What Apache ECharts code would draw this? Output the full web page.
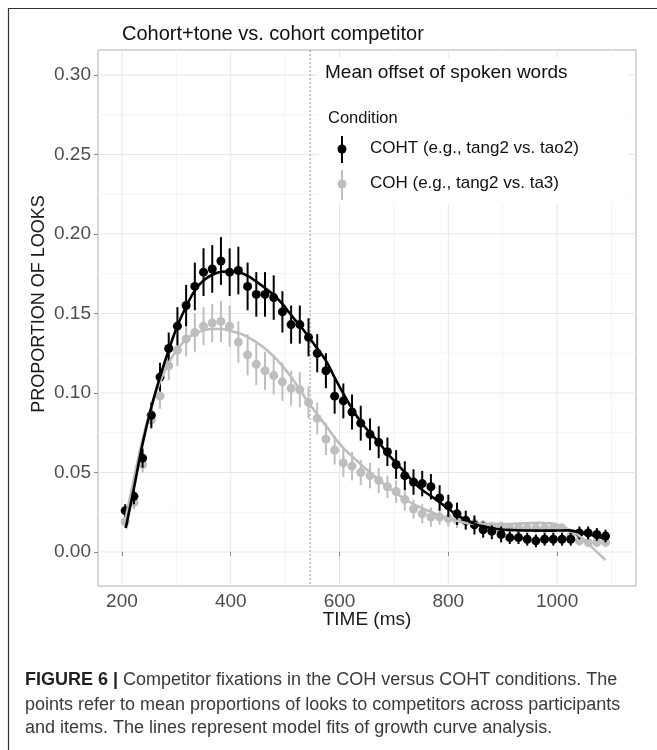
<!DOCTYPE html>
<html>
<head>
<meta charset="utf-8">
<title>Competitor fixations</title>
<script src="https://cdn.jsdelivr.net/npm/echarts@6/dist/echarts.min.js"></script>
<style>
  html, body { margin: 0; padding: 0; background: #fff; }
  #main { width: 657px; height: 750px; }
</style>
</head>
<body>
<div id="main"></div>
<script>
// time bins (ms)
const times = [206, 222, 238, 254, 270, 286, 302, 318, 334, 350, 366, 382, 398, 414,
  431, 447, 463, 479, 495, 511, 527, 543, 559, 575, 591, 607, 623, 639, 656, 672,
  688, 704, 720, 736, 752, 768, 784, 800, 816, 832, 848, 864, 880, 897, 913, 929,
  945, 961, 977, 993, 1009, 1025, 1041, 1057, 1073, 1089];

// COHT (black) means and error half-widths
const cohtMean = [0.026, 0.035, 0.059, 0.086, 0.110, 0.128, 0.142, 0.155, 0.167, 0.176,
  0.178, 0.183, 0.176, 0.177, 0.167, 0.162, 0.162, 0.160, 0.151, 0.143, 0.143, 0.135,
  0.125, 0.114, 0.098, 0.095, 0.088, 0.081, 0.074, 0.069, 0.063, 0.055, 0.048, 0.044,
  0.043, 0.041, 0.034, 0.029, 0.024, 0.020, 0.017, 0.014, 0.013, 0.011, 0.009, 0.009,
  0.008, 0.007, 0.008, 0.008, 0.008, 0.008, 0.012, 0.012, 0.011, 0.010];
const cohtErr = [0.004, 0.005, 0.006, 0.008, 0.009, 0.010, 0.012, 0.013, 0.015, 0.015,
  0.015, 0.015, 0.015, 0.015, 0.015, 0.014, 0.014, 0.014, 0.013, 0.012, 0.012, 0.012,
  0.012, 0.011, 0.011, 0.011, 0.011, 0.011, 0.010, 0.010, 0.009, 0.009, 0.009, 0.008,
  0.008, 0.008, 0.008, 0.007, 0.007, 0.006, 0.006, 0.005, 0.005, 0.005, 0.004, 0.004,
  0.004, 0.004, 0.004, 0.004, 0.004, 0.004, 0.004, 0.004, 0.004, 0.004];

// COH (grey) means and error half-widths
const cohMean = [0.019, 0.031, 0.055, 0.083, 0.098, 0.117, 0.127, 0.134, 0.138, 0.142,
  0.144, 0.145, 0.142, 0.132, 0.124, 0.118, 0.114, 0.111, 0.107, 0.103, 0.102, 0.094,
  0.084, 0.071, 0.064, 0.056, 0.054, 0.050, 0.048, 0.045, 0.041, 0.038, 0.033, 0.027,
  0.024, 0.022, 0.022, 0.021, 0.020, 0.019, 0.018, 0.017, 0.016, 0.016, 0.015, 0.015,
  0.015, 0.015, 0.015, 0.015, 0.015, 0.010, 0.007, 0.006, 0.006, 0.006];
const cohErr = [0.003, 0.004, 0.005, 0.006, 0.008, 0.009, 0.010, 0.011, 0.012, 0.012,
  0.012, 0.013, 0.013, 0.013, 0.013, 0.013, 0.012, 0.012, 0.012, 0.011, 0.011, 0.010,
  0.010, 0.010, 0.009, 0.009, 0.009, 0.008, 0.008, 0.008, 0.007, 0.007, 0.007, 0.006,
  0.006, 0.006, 0.005, 0.005, 0.005, 0.004, 0.004, 0.003, 0.003, 0.003, 0.003, 0.003,
  0.003, 0.003, 0.003, 0.003, 0.003, 0.003, 0.003, 0.003, 0.003, 0.003];

// growth curve model fits
const cohtFit = [[207, 0.015], [222, 0.040], [238, 0.068], [254, 0.091], [270, 0.110],
  [286, 0.127], [303, 0.143], [319, 0.155], [335, 0.165], [351, 0.171], [367, 0.1745],
  [383, 0.1762], [400, 0.1765], [416, 0.1757], [432, 0.1735], [447, 0.170], [463, 0.166],
  [479, 0.1616], [495, 0.156], [511, 0.149], [527, 0.1425], [543, 0.1354], [559, 0.128],
  [576, 0.1197], [592, 0.109], [608, 0.099], [625, 0.089], [641, 0.081], [656, 0.075],
  [672, 0.069], [688, 0.062], [704, 0.056], [720, 0.050], [736, 0.044], [752, 0.039],
  [769, 0.035], [785, 0.031], [801, 0.027], [817, 0.023], [834, 0.020], [850, 0.0175],
  [866, 0.016], [890, 0.0145], [915, 0.0138], [950, 0.0135], [979, 0.0134], [1000, 0.0135],
  [1020, 0.0136], [1040, 0.0125], [1060, 0.011], [1075, 0.0095], [1089, 0.008]];
const cohFit = [[205, 0.018], [222, 0.046], [238, 0.071], [254, 0.091], [270, 0.107],
  [286, 0.119], [303, 0.128], [319, 0.134], [335, 0.1375], [351, 0.1395], [367, 0.1402],
  [383, 0.1402], [400, 0.139], [416, 0.1375], [432, 0.135], [447, 0.132], [463, 0.128],
  [479, 0.123], [495, 0.117], [511, 0.110], [527, 0.102], [543, 0.094], [559, 0.0865],
  [576, 0.079], [592, 0.0715], [608, 0.065], [625, 0.0595], [641, 0.0545], [656, 0.050],
  [672, 0.0455], [688, 0.041], [704, 0.037], [721, 0.033], [745, 0.0285], [770, 0.025],
  [795, 0.0215], [817, 0.0195], [840, 0.018], [866, 0.0176], [890, 0.0175], [915, 0.0177],
  [940, 0.018], [964, 0.0183], [990, 0.018], [1006, 0.0165], [1025, 0.0135], [1043, 0.0096],
  [1058, 0.005], [1070, 0.001], [1089, -0.005]];

const meanOffset = 546;

// axes
const xTicks = [200, 400, 600, 800, 1000];
const xMinor = [300, 500, 700, 900, 1100];
const yTicks = [0, 0.05, 0.10, 0.15, 0.20, 0.25, 0.30];
const yMinor = [0.025, 0.075, 0.125, 0.175, 0.225, 0.275];

const BLACK = '#000000';
const GREY = '#bebebe';
const FONT = '"Liberation Sans", Arial, sans-serif';

function errorBars(mean, err, color, z) {
  return {
    type: 'custom',
    silent: true,
    z: z,
    data: times.map((t, i) => [t, mean[i] - err[i], mean[i] + err[i]]),
    encode: { x: 0, y: [1, 2] },
    renderItem: function (params, api) {
      const lo = api.coord([api.value(0), api.value(1)]);
      const hi = api.coord([api.value(0), api.value(2)]);
      return {
        type: 'line',
        shape: { x1: lo[0], y1: lo[1], x2: hi[0], y2: hi[1] },
        style: { stroke: color, lineWidth: 2 }
      };
    }
  };
}

function points(mean, color, z) {
  return {
    type: 'scatter',
    silent: true,
    z: z,
    symbol: 'circle',
    symbolSize: 9,
    itemStyle: { color: color, opacity: 1 },
    data: times.map((t, i) => [t, mean[i]])
  };
}

function fitLine(fit, color, z) {
  return {
    type: 'line',
    silent: true,
    z: z,
    smooth: 0.4,
    symbol: 'none',
    lineStyle: { color: color, width: 2.6 },
    data: fit
  };
}

// vertical grid lines + mean offset line
function vLines(values, color, width, dash, z) {
  return {
    type: 'custom', silent: true, z: z,
    data: values.map(v => [v, 0]),
    renderItem: function (params, api) {
      const cs = params.coordSys;
      const p = api.coord([api.value(0), 0]);
      return {
        type: 'line',
        shape: { x1: p[0], y1: cs.y, x2: p[0], y2: cs.y + cs.height },
        style: { stroke: color, lineWidth: width, lineDash: dash }
      };
    }
  };
}
function hLines(values, color, width, z) {
  return {
    type: 'custom', silent: true, z: z,
    data: values.map(v => [600, v]),
    renderItem: function (params, api) {
      const cs = params.coordSys;
      const p = api.coord([600, api.value(1)]);
      return {
        type: 'line',
        shape: { x1: cs.x, y1: p[1], x2: cs.x + cs.width, y2: p[1] },
        style: { stroke: color, lineWidth: width }
      };
    }
  };
}

const chart = echarts.init(document.getElementById('main'), null, { renderer: 'canvas' });

chart.setOption({
  animation: false,
  backgroundColor: '#ffffff',
  textStyle: { fontFamily: FONT },
  grid: {
    left: 98, top: 50, width: 538, height: 536,
    show: true, borderColor: '#b0b0b0', borderWidth: 1, backgroundColor: 'transparent'
  },
  xAxis: {
    type: 'value', min: 156, max: 1145,
    axisLine: { show: false },
    splitLine: { show: false },
    axisTick: { show: true, customValues: xTicks, length: 4, lineStyle: { color: '#8a8a8a' } },
    axisLabel: {
      customValues: xTicks, fontSize: 19, color: '#4d4d4d', margin: 6, fontFamily: FONT,
      formatter: v => String(v)
    }
  },
  yAxis: {
    type: 'value', min: -0.0214, max: 0.3157,
    axisLine: { show: false },
    splitLine: { show: false },
    axisTick: { show: true, customValues: yTicks, length: 4, lineStyle: { color: '#8a8a8a' } },
    axisLabel: {
      customValues: yTicks, fontSize: 19, color: '#4d4d4d', margin: 7, fontFamily: FONT,
      formatter: v => v.toFixed(2)
    }
  },
  series: [
    vLines(xMinor, '#f4f4f4', 1, null, 0),
    hLines(yMinor, '#f4f4f4', 1, 0),
    vLines(xTicks, '#e6e6e6', 1, null, 0),
    hLines(yTicks, '#e6e6e6', 1, 0),
    vLines([meanOffset], '#9a9a9a', 1, [2, 2], 1),
    errorBars(cohMean, cohErr, GREY, 2),
    points(cohMean, GREY, 3),
    errorBars(cohtMean, cohtErr, BLACK, 4),
    points(cohtMean, BLACK, 5),
    fitLine(cohFit, GREY, 6),
    fitLine(cohtFit, BLACK, 7)
  ],
  graphic: [
    // figure frame (cropped at right and bottom)
    { type: 'rect', z: 100, silent: true,
      shape: { x: 8.5, y: 8.5, width: 700, height: 800 },
      style: { fill: null, stroke: '#333', lineWidth: 1.2 } },
    // legend / annotation background inside panel
    { type: 'rect', z: 90, silent: true,
      shape: { x: 318, y: 58, width: 310, height: 146 },
      style: { fill: '#ffffff' } },
    { type: 'text', z: 100, left: 122, top: 24,
      style: { text: 'Cohort+tone vs. cohort competitor', fill: '#111', fontSize: 20, fontFamily: FONT } },
    { type: 'text', z: 100, left: 325, top: 63,
      style: { text: 'Mean offset of spoken words', fill: '#111', fontSize: 19, fontFamily: FONT } },
    { type: 'text', z: 100, left: 328, top: 110,
      style: { text: 'Condition', fill: '#111', fontSize: 16.5, fontFamily: FONT } },
    { type: 'line', z: 100, shape: { x1: 342, y1: 136, x2: 342, y2: 163 }, style: { stroke: BLACK, lineWidth: 2 } },
    { type: 'circle', z: 100, shape: { cx: 342, cy: 149, r: 4.5 }, style: { fill: BLACK } },
    { type: 'text', z: 100, left: 370, top: 140,
      style: { text: 'COHT (e.g., tang2 vs. tao2)', fill: '#111', fontSize: 17, fontFamily: FONT } },
    { type: 'line', z: 100, shape: { x1: 342, y1: 170, x2: 342, y2: 200 }, style: { stroke: GREY, lineWidth: 2 } },
    { type: 'circle', z: 100, shape: { cx: 342, cy: 184, r: 4.5 }, style: { fill: GREY } },
    { type: 'text', z: 100, left: 370, top: 175,
      style: { text: 'COH (e.g., tang2 vs. ta3)', fill: '#111', fontSize: 17, fontFamily: FONT } },
    // axis titles
    { type: 'text', z: 100, x: 39, y: 304, rotation: Math.PI / 2,
      style: { text: 'PROPORTION OF LOOKS', fill: '#1a1a1a', fontSize: 18, fontFamily: FONT, align: 'center', verticalAlign: 'middle' } },
    { type: 'text', z: 100, x: 367, y: 620,
      style: { text: 'TIME (ms)', fill: '#1a1a1a', fontSize: 19, fontFamily: FONT, align: 'center', verticalAlign: 'middle' } },
    // caption
    { type: 'text', z: 100, x: 25, y: 680,
      style: {
        text: '{b|FIGURE 6 |}{n| Competitor fixations in the COH versus COHT conditions. The}',
        verticalAlign: 'middle',
        rich: {
          b: { fontWeight: 'bold', fill: '#1f1f1f', fontSize: 18, fontFamily: FONT },
          n: { fill: '#3a3a3a', fontSize: 18, fontFamily: FONT }
        }
      } },
    { type: 'text', z: 100, x: 25, y: 705,
      style: { text: 'points refer to mean proportions of looks to competitors across participants',
        fill: '#3a3a3a', fontSize: 18, fontFamily: FONT, verticalAlign: 'middle' } },
    { type: 'text', z: 100, x: 25, y: 728,
      style: { text: 'and items. The lines represent model fits of growth curve analysis.',
        fill: '#3a3a3a', fontSize: 18, fontFamily: FONT, verticalAlign: 'middle' } }
  ]
});
</script>
</body>
</html>
